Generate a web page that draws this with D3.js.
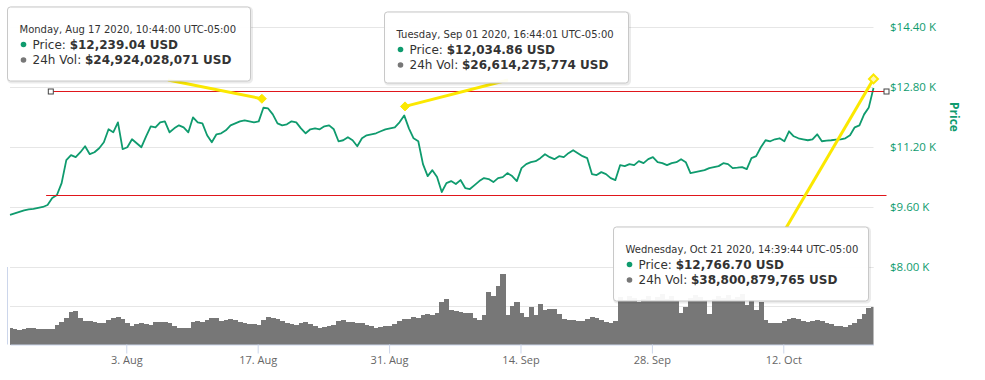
<!DOCTYPE html>
<html>
<head>
<meta charset="utf-8">
<script src="https://cdn.jsdelivr.net/npm/d3@7"></script>
<style>
  body { margin: 0; background: #fff; }
  svg { display: block; font-family: "Open Sans", sans-serif; }
</style>
</head>
<body>
<svg id="chart" width="985" height="380"></svg>
<script>
// half-day samples, first one at the left edge of the chart
const startTime = "2020-07-21T14:39:44-05:00";
const stepHours = 12;

const prices = [
  9381, 9420, 9460, 9500, 9527, 9540, 9566, 9593, 9646, 9832,
  9912, 10230, 10841, 10974, 10921, 11053, 11213, 11000, 11053, 11159,
  11319, 11664, 11584, 11850, 11133, 11186, 11398, 11292, 11186, 11478,
  11744, 11717, 11850, 11876, 11584, 11690, 11770, 11717, 11584, 11983,
  11850, 11823, 11505, 11319, 11531, 11558, 11637, 11770, 11823, 11876,
  11903, 11876, 11850, 11876, 12239.04, 12220, 12062, 11823, 11770, 11797,
  11876, 11850, 11690, 11558, 11664, 11690, 11664, 11744, 11770, 11664,
  11345, 11372, 11452, 11372, 11213, 11425, 11505, 11531, 11558, 11611,
  11664, 11690, 11717, 11850, 12034.86, 11690, 11425, 11345, 10735, 10416,
  10575, 10390, 9991, 10230, 10283, 10204, 10310, 10097, 10071, 10177,
  10283, 10363, 10336, 10257, 10363, 10390, 10496, 10416, 10283, 10628,
  10735, 10788, 10814, 10894, 11000, 10921, 10867, 10947, 10921, 11027,
  11106, 11027, 10947, 10894, 10469, 10443, 10522, 10469, 10363, 10310,
  10708, 10682, 10735, 10708, 10814, 10761, 10867, 10921, 10788, 10761,
  10708, 10761, 10788, 10867, 10788, 10496, 10522, 10549, 10575, 10628,
  10655, 10682, 10761, 10735, 10628, 10640, 10655, 10602, 10894, 10947,
  11186, 11372, 11345, 11398, 11425, 11345, 11611, 11478, 11425, 11398,
  11372, 11398, 11531, 11345, 11360, 11372, 11390, 11398, 11425, 11505,
  11717, 11770, 12062, 12248, 12766.70
];

// 24h volume, billions of USD
const volumes = [
  16.8, 16, 14.5, 15.5, 17.5, 17, 16.3, 16, 15.8, 16.5,
  20.5, 23.6, 27, 34, 34.5, 27, 24, 24, 23, 22.3,
  22.5, 25, 27, 28.8, 26, 22, 19.5, 21, 22.5, 21,
  20.5, 23, 23.6, 23, 22, 19, 17.4, 17.4, 17.4, 23.6,
  24.5, 23, 25, 27.5, 27, 24.5, 25.5, 26.5, 25, 23.6,
  22.5, 21.5, 21, 20.5, 25, 28.8, 27.5, 26.5, 24, 22.5,
  21.5, 20.5, 22, 23.6, 21.5, 19, 17.4, 18.5, 19, 20.2,
  24, 25.4, 23.6, 23, 22.5, 22.5, 20.5, 19.2, 17.4, 18.5,
  19.2, 19.2, 21, 24, 26.1, 26.1, 28, 27.1, 30, 32,
  30.6, 33, 44, 47, 36, 34.2, 33.5, 33, 32.3, 27,
  25, 30, 54, 50, 60, 73, 30, 40, 44, 33,
  28, 39, 30, 42, 36, 36.4, 36.4, 32, 26, 25.5,
  25, 24, 24, 26.5, 28.8, 27.5, 25, 23.6, 22.5, 24,
  49, 46, 50, 48, 44, 47, 50, 46, 49, 52,
  47, 50, 45, 33, 39, 48, 51, 49, 46, 32,
  47, 50, 48, 51, 47, 49, 52, 41, 46, 36,
  44, 25, 22.5, 22, 22, 24, 26.1, 27.5, 26.5, 24.5,
  23.6, 24.5, 25.4, 24, 22.5, 21, 19.2, 18.8, 18.5, 20,
  22.5, 26, 31, 37.5, 38.8
];

const priceTicks = [8000, 9600, 11200, 12800, 14400];
const priceTickLabels = ["$8.00 K", "$9.60 K", "$11.20 K", "$12.80 K", "$14.40 K"];
const volumeTicks = [40, 80];
const dateTicks = ["2020-08-03", "2020-08-17", "2020-08-31", "2020-09-14", "2020-09-28", "2020-10-12"];
const dateTickLabels = ["3. Aug", "17. Aug", "31. Aug", "14. Sep", "28. Sep", "12. Oct"];

// drawn support / resistance levels
const levelPrices = [12685, 9912];
const levelStarts = ["2020-07-25T23:00:00-05:00", "2020-07-25T11:00:00-05:00"];

// pinned tooltips
const noteDates = ["2020-08-17T10:44:00-05:00", "2020-09-01T16:44:01-05:00", "2020-10-21T14:39:44-05:00"];
const noteLabels = ["Monday, Aug 17 2020, 10:44:00 UTC-05:00", "Tuesday, Sep 01 2020, 16:44:01 UTC-05:00", "Wednesday, Oct 21 2020, 14:39:44 UTC-05:00"];
const notePrices = ["$12,239.04 USD", "$12,034.86 USD", "$12,766.70 USD"];
const noteVolumes = ["$24,924,028,071 USD", "$26,614,275,774 USD", "$38,800,879,765 USD"];
const notePriceValues = [12239.04, 12034.86, 12766.70];

const green = "#0f9b6e";
const grey = "#777";
const yellow = "#fbe800";

const svg = d3.select("#chart");
const t0 = new Date(startTime);
const times = prices.map((p, i) => new Date(t0.getTime() + i * stepHours * 3600e3));

const x = d3.scaleTime().domain([t0, times[times.length - 1]]).range([10, 873.5]);
const yPrice = d3.scaleLinear().domain([8000, 14400]).range([266.7, 26.7]);
const yVol = d3.scaleLinear().domain([0, 80]).range([344.5, 267]);

svg.append("defs").append("clipPath").attr("id", "plot")
  .append("rect").attr("x", 10).attr("y", 0).attr("width", 863.5).attr("height", 345);

// grid
svg.append("g").selectAll("line")
  .data(priceTicks)
  .join("line")
  .attr("x1", 10).attr("x2", 873.5)
  .attr("y1", d => Math.round(yPrice(d)) + 0.5)
  .attr("y2", d => Math.round(yPrice(d)) + 0.5)
  .attr("stroke", "#e6e6e6");

svg.append("g").selectAll("line")
  .data(volumeTicks)
  .join("line")
  .attr("x1", 10).attr("x2", 873.5)
  .attr("y1", d => Math.round(yVol(d)) + 0.5)
  .attr("y2", d => Math.round(yVol(d)) + 0.5)
  .attr("stroke", "#e6e6e6");

svg.append("line")
  .attr("x1", 7.5).attr("x2", 7.5).attr("y1", 267).attr("y2", 344.5)
  .attr("stroke", "#ccd6eb");

// volume columns
const barW = x(times[1]) - x(times[0]);
svg.append("g").attr("clip-path", "url(#plot)")
  .selectAll("rect")
  .data(volumes)
  .join("rect")
  .attr("x", (d, i) => x(times[i]) - barW / 2)
  .attr("width", barW + 0.4)
  .attr("y", d => yVol(d))
  .attr("height", d => yVol(0) - yVol(d))
  .attr("fill", grey)
  .attr("shape-rendering", "crispEdges");

// x axis
const xAxis = svg.append("g")
  .attr("transform", "translate(0,344.5)")
  .call(d3.axisBottom(x)
    .tickValues(dateTicks.map(d => new Date(d + "T00:00:00-05:00")))
    .tickFormat((d, i) => dateTickLabels[i])
    .tickSize(9).tickSizeOuter(0).tickPadding(3));
xAxis.select(".domain").attr("stroke", "#ccd6eb");
xAxis.selectAll(".tick line").attr("stroke", "#ccd6eb");
xAxis.selectAll(".tick text").attr("fill", "#666").attr("font-size", 11).attr("font-family", "'Open Sans', sans-serif");

// price axis on the right
const yAxis = svg.append("g")
  .attr("transform", "translate(883,0)")
  .call(d3.axisRight(yPrice)
    .tickValues(priceTicks)
    .tickFormat((d, i) => priceTickLabels[i])
    .tickSize(0).tickPadding(7));
yAxis.select(".domain").remove();
yAxis.selectAll(".tick text").attr("fill", green).attr("font-size", 11.5).attr("font-family", "'Open Sans', sans-serif");

svg.append("text")
  .attr("transform", "translate(950,117) rotate(90)")
  .attr("text-anchor", "middle")
  .attr("font-size", 12).attr("font-weight", "bold")
  .attr("fill", green)
  .text("Price");

// price line
svg.append("path")
  .datum(prices)
  .attr("fill", "none")
  .attr("stroke", green)
  .attr("stroke-width", 1.8)
  .attr("stroke-linejoin", "round")
  .attr("d", d3.line().x((d, i) => x(times[i])).y(d => yPrice(d)));

// level lines
const levelEnd = x.range()[1] + 13;
levelPrices.forEach((p, k) => {
  const ly = Math.round(yPrice(p)) + 0.5;
  const lx = x(new Date(levelStarts[k]));
  svg.append("line")
    .attr("x1", lx).attr("x2", levelEnd).attr("y1", ly).attr("y2", ly)
    .attr("stroke", "#e0161b");
  if (k === 0) {
    [lx, levelEnd].forEach(cx => {
      svg.append("rect")
        .attr("x", cx - 2.5).attr("y", ly - 2.5).attr("width", 5).attr("height", 5)
        .attr("fill", "#fff").attr("stroke", "#444");
    });
  }
});

// tooltip boxes and where their connectors leave them
const noteBoxes = [
  { x: 7.5, y: 7, w: 243, h: 74, ax: 168, ay: 80 },
  { x: 384.5, y: 12, w: 244, h: 71, ax: 508, ay: 80 },
  { x: 613.5, y: 227, w: 255, h: 74, ax: 786, ay: 228 }
];

noteDates.forEach((d, k) => {
  const px = x(new Date(d));
  const py = yPrice(notePriceValues[k]) - 9;
  const b = noteBoxes[k];
  svg.append("line")
    .attr("x1", b.ax).attr("y1", b.ay).attr("x2", px).attr("y2", py)
    .attr("stroke", yellow).attr("stroke-width", 3);
  svg.append("path")
    .attr("d", `M${px},${py - 4.5} L${px + 4.5},${py} L${px},${py + 4.5} L${px - 4.5},${py} Z`)
    .attr("fill", k === 2 ? "#fff7b0" : yellow)
    .attr("stroke", yellow).attr("stroke-width", k === 2 ? 2 : 1);
});

noteDates.forEach((d, k) => {
  const b = noteBoxes[k];
  const g = svg.append("g")
    .attr("transform", `translate(${b.x},${b.y})`)
    .attr("font-family", "'DejaVu Sans', Verdana, sans-serif");
  g.append("rect")
    .attr("x", 1).attr("y", 1).attr("width", b.w).attr("height", b.h).attr("rx", 3)
    .attr("fill", "none").attr("stroke", "rgba(0,0,0,0.08)").attr("stroke-width", 3);
  g.append("rect")
    .attr("width", b.w).attr("height", b.h).attr("rx", 3)
    .attr("fill", "rgba(255,255,255,0.94)").attr("stroke", "#c8c8c8");
  g.append("text")
    .attr("x", 12).attr("y", 25.5)
    .attr("font-size", 10).attr("fill", "#333")
    .text(noteLabels[k]);

  const rows = [["Price: ", notePrices[k], green, 41.5], ["24h Vol: ", noteVolumes[k], grey, 57]];
  rows.forEach(r => {
    g.append("circle").attr("cx", 16).attr("cy", r[3] - 4).attr("r", 2.8).attr("fill", r[2]);
    const t = g.append("text").attr("x", 25).attr("y", r[3])
      .attr("font-size", 12).attr("fill", "#333");
    t.append("tspan").text(r[0]);
    t.append("tspan").attr("font-weight", "bold").text(r[1]);
  });
});
</script>
</body>
</html>
